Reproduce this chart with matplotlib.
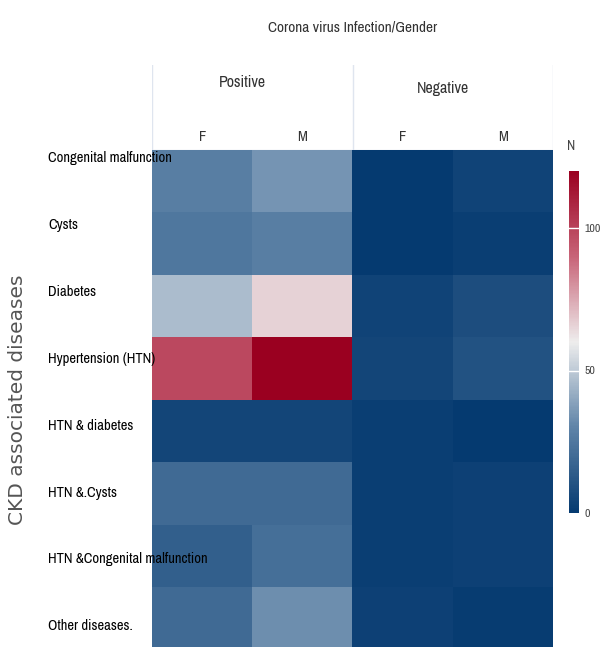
import numpy as np
import matplotlib.pyplot as plt
from matplotlib.colors import LinearSegmentedColormap

# CKD associated diseases by corona virus infection and gender
diseases = ["Congenital malfunction", "Cysts", "Diabetes", "Hypertension (HTN)",
            "HTN & diabetes", "HTN &.Cysts", "HTN &Congenital malfunction", "Other diseases."]
groups = ["Positive", "Negative"]
genders = ["F", "M", "F", "M"]

positive_f = [28, 25, 46, 98, 5, 20, 15, 20]
positive_m = [35, 28, 66, 121, 5, 20, 22, 33]
negative_f = [0, 0, 4, 5, 2, 2, 2, 3]
negative_m = [4, 2, 8, 10, 0, 3, 3, 1]

cbar_ticks = [0, 50, 100]

data = np.array([positive_f, positive_m, negative_f, negative_m]).T

cmap = LinearSegmentedColormap.from_list(
    "rdbu_n", ["#053a70", "#5f84a8", "#eeeded", "#c86478", "#9a0020"])

# narrow face like the original, falls back to Liberation Sans
narrow = ["Liberation Sans Narrow", "Archivo Narrow", "Liberation Sans"]

W, H = 603, 647
fig = plt.figure(figsize=(W / 100, H / 100), dpi=100)

# main heatmap
ax = fig.add_axes([152 / W, -0.004, 401 / W, 1 - 150 / H + 0.004])
im = ax.imshow(data, aspect="auto", cmap=cmap, vmin=0, vmax=120,
               interpolation="nearest")
ax.set_xticks([])
ax.set_yticks([])
for s in ax.spines.values():
    s.set_visible(False)

# row labels sit over the tiles, left aligned
for i, name in enumerate(diseases):
    ypix = 158 + i * 66.9
    fig.text(48 / W, 1 - ypix / H, name, ha="left", va="center",
             fontsize=10.5, family=narrow, color="black", zorder=5)

# header with group and gender labels
hx = fig.add_axes([152 / W, 1 - 150 / H, 401 / W, 85 / H])
hx.set_xlim(0, 4)
hx.set_ylim(0, 1)
hx.axis("off")
for x in [0, 2, 4]:
    hx.axvline(x, color="#dfe5ef", lw=1)
hx.axhline(0, color="#dfe5ef", lw=1)
hx.text(0.9, 0.79, groups[0], ha="center", va="center", fontsize=11.5, family=narrow, color="#333333")
hx.text(2.9, 0.72, groups[1], ha="center", va="center", fontsize=11.5, family=narrow, color="#333333")
for j, g in enumerate(genders):
    hx.text(j + 0.5, 0.15, g, ha="center", va="center", fontsize=10.5, family=narrow, color="#333333")

fig.text(353 / W, 1 - 27 / H, "Corona virus Infection/Gender", ha="center", va="center",
         fontsize=11, family=narrow, color="#333333")

fig.text(18 / W, 1 - 400 / H, "CKD associated diseases", rotation=90, ha="center", va="center",
         fontsize=14.5, family="DejaVu Sans", color="#555555")

# colorbar
cax = fig.add_axes([569 / W, 1 - 513 / H, 10 / W, 342 / H])
cb = fig.colorbar(im, cax=cax, ticks=cbar_ticks)
cb.outline.set_visible(False)
cax.tick_params(length=0, labelsize=8.5, colors="#444444", pad=4)
for t in cax.get_yticklabels():
    t.set_family(narrow)
for v in cbar_ticks[1:]:
    cax.axhline(v, color="white", lw=1)
fig.text(571 / W, 1 - 146 / H, "N", ha="center", va="center", fontsize=10,
         family=narrow, color="#444444")

fig.savefig("out.png", dpi=100)
